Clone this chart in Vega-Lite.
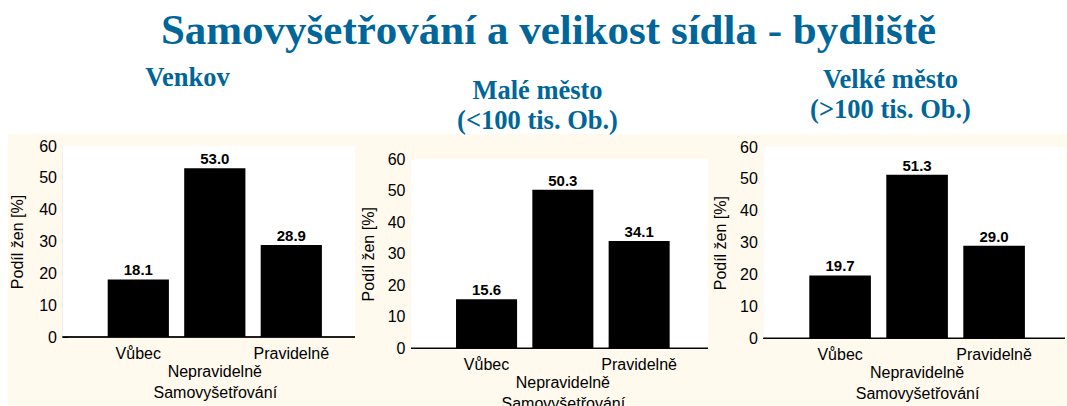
{
  "$schema": "https://vega.github.io/schema/vega-lite/v6.json",
  "background": "white",
  "padding": {"left": 8, "top": 9, "right": 0, "bottom": 0},
  "title": {"text": "Samovyšetřování a velikost sídla - bydliště", "fontSize": 43, "anchor": "middle", "baseline": "bottom", "offset": -30.9, "dx": 11},
  "data": {"values": [
    {"sidlo": "Venkov", "kategorie": "Vůbec", "podil": 18.1},
    {"sidlo": "Venkov", "kategorie": "Nepravidelně", "podil": 53.0},
    {"sidlo": "Venkov", "kategorie": "Pravidelně", "podil": 28.9},
    {"sidlo": "Malé město", "kategorie": "Vůbec", "podil": 15.6},
    {"sidlo": "Malé město", "kategorie": "Nepravidelně", "podil": 50.3},
    {"sidlo": "Malé město", "kategorie": "Pravidelně", "podil": 34.1},
    {"sidlo": "Velké město", "kategorie": "Vůbec", "podil": 19.7},
    {"sidlo": "Velké město", "kategorie": "Nepravidelně", "podil": 51.3},
    {"sidlo": "Velké město", "kategorie": "Pravidelně", "podil": 29.0}
  ]},
  "spacing": 0,
  "bounds": "flush",
  "hconcat": [
    {
      "width": 347, "height": 273,
      "title": {"text": "Venkov", "fontSize": 26.5, "anchor": "middle", "frame": "group", "baseline": "bottom", "offset": 15.9, "dx": 6},
      "transform": [{"filter": "datum.sidlo === 'Venkov'"}],
      "layer": [
        {"mark": {"type": "rect", "fill": "white"},
         "encoding": {
           "x": {"datum": 0, "type": "quantitative", "scale": {"domain": [0, 1], "range": [54.5, 347]}, "axis": null},
           "x2": {"datum": 1},
           "y": {"datum": 0, "type": "quantitative", "scale": {"domain": [0, 60], "range": [203, 12]}},
           "y2": {"datum": 60}}},
        {"mark": {"type": "rule", "color": "black", "strokeWidth": 1},
         "encoding": {
           "x": {"datum": 0, "type": "quantitative", "scale": {"domain": [0, 1], "range": [54.5, 347]}, "axis": null},
           "x2": {"datum": 1},
           "y": {"datum": 0, "type": "quantitative", "scale": {"domain": [0, 60], "range": [203, 12]}}}},
        {"encoding": {
           "x": {"field": "kategorie", "type": "nominal", "sort": null,
                 "scale": {"domain": ["Vůbec", "Nepravidelně", "Pravidelně"], "range": [92.05, 321.55], "paddingInner": 0.2, "paddingOuter": 0.1},
                 "axis": {"title": "Samovyšetřování", "offset": -70, "domain": false, "ticks": false, "labelAngle": 0, "labelPadding": 8, "labelLineHeight": 18, "titlePadding": 5,
                          "labelExpr": "datum.label == 'Nepravidelně' ? ['', datum.label] : datum.label"}},
           "y": {"field": "podil", "type": "quantitative",
                 "scale": {"domain": [0, 60], "range": [203, 12]},
                 "axis": {"title": "Podíl žen [%]", "values": [0, 10, 20, 30, 40, 50, 60], "offset": -54.5, "tickSize": -5, "labelPadding": 11, "titlePadding": 13}}},
         "layer": [
           {"mark": {"type": "bar", "color": "black"}},
           {"mark": {"type": "text", "baseline": "bottom", "dy": -1, "fontWeight": "bold", "fontSize": 15, "font": "Liberation Sans", "color": "black"},
            "encoding": {"text": {"field": "podil", "type": "quantitative", "format": ".1f"}}}
         ]}
      ],
      "resolve": {"scale": {"x": "independent"}, "axis": {"x": "independent"}}
    },
    {
      "width": 365, "height": 273,
      "title": {"text": ["Malé město", "(<100 tis. Ob.)"], "fontSize": 26.5, "lineHeight": 30, "anchor": "middle", "frame": "group", "baseline": "bottom", "offset": -27.1},
      "transform": [{"filter": "datum.sidlo === 'Malé město'"}],
      "layer": [
        {"mark": {"type": "rect", "fill": "white"},
         "encoding": {
           "x": {"datum": 0, "type": "quantitative", "scale": {"domain": [0, 1], "range": [56, 353]}, "axis": null},
           "x2": {"datum": 1},
           "y": {"datum": 0, "type": "quantitative", "scale": {"domain": [0, 60], "range": [214.3, 25.3]}},
           "y2": {"datum": 60}}},
        {"mark": {"type": "rule", "color": "black", "strokeWidth": 1},
         "encoding": {
           "x": {"datum": 0, "type": "quantitative", "scale": {"domain": [0, 1], "range": [56, 353]}, "axis": null},
           "x2": {"datum": 1},
           "y": {"datum": 0, "type": "quantitative", "scale": {"domain": [0, 60], "range": [214.3, 25.3]}}}},
        {"encoding": {
           "x": {"field": "kategorie", "type": "nominal", "sort": null,
                 "scale": {"domain": ["Vůbec", "Nepravidelně", "Pravidelně"], "range": [93.4, 322.3], "paddingInner": 0.2, "paddingOuter": 0.1},
                 "axis": {"title": "Samovyšetřování", "offset": -58.7, "domain": false, "ticks": false, "labelAngle": 0, "labelPadding": 8, "labelLineHeight": 18, "titlePadding": 5,
                          "labelExpr": "datum.label == 'Nepravidelně' ? ['', datum.label] : datum.label"}},
           "y": {"field": "podil", "type": "quantitative",
                 "scale": {"domain": [0, 60], "range": [214.3, 25.3]},
                 "axis": {"title": "Podíl žen [%]", "values": [0, 10, 20, 30, 40, 50, 60], "offset": -56, "tickSize": -5, "labelPadding": 11, "titlePadding": 11}}},
         "layer": [
           {"mark": {"type": "bar", "color": "black"}},
           {"mark": {"type": "text", "baseline": "bottom", "dy": -1, "fontWeight": "bold", "fontSize": 15, "font": "Liberation Sans", "color": "black"},
            "encoding": {"text": {"field": "podil", "type": "quantitative", "format": ".1f"}}}
         ]}
      ],
      "resolve": {"scale": {"x": "independent"}, "axis": {"x": "independent"}}
    },
    {
      "width": 347, "height": 273,
      "title": {"text": ["Velké město", "(>100 tis. Ob.)"], "fontSize": 26.5, "lineHeight": 30, "anchor": "middle", "frame": "group", "baseline": "bottom", "offset": -16.1, "dx": -3},
      "transform": [{"filter": "datum.sidlo === 'Velké město'"}],
      "layer": [
        {"mark": {"type": "rect", "fill": "white"},
         "encoding": {
           "x": {"datum": 0, "type": "quantitative", "scale": {"domain": [0, 1], "range": [43.3, 345]}, "axis": null},
           "x2": {"datum": 1},
           "y": {"datum": 0, "type": "quantitative", "scale": {"domain": [0, 60], "range": [204.3, 13]}},
           "y2": {"datum": 60}}},
        {"mark": {"type": "rule", "color": "black", "strokeWidth": 1},
         "encoding": {
           "x": {"datum": 0, "type": "quantitative", "scale": {"domain": [0, 1], "range": [43.3, 345]}, "axis": null},
           "x2": {"datum": 1},
           "y": {"datum": 0, "type": "quantitative", "scale": {"domain": [0, 60], "range": [204.3, 13]}}}},
        {"encoding": {
           "x": {"field": "kategorie", "type": "nominal", "sort": null,
                 "scale": {"domain": ["Vůbec", "Nepravidelně", "Pravidelně"], "range": [81.6, 312.6], "paddingInner": 0.2, "paddingOuter": 0.1},
                 "axis": {"title": "Samovyšetřování", "offset": -68.7, "domain": false, "ticks": false, "labelAngle": 0, "labelPadding": 8, "labelLineHeight": 18, "titlePadding": 5,
                          "labelExpr": "datum.label == 'Nepravidelně' ? ['', datum.label] : datum.label"}},
           "y": {"field": "podil", "type": "quantitative",
                 "scale": {"domain": [0, 60], "range": [204.3, 13]},
                 "axis": {"title": "Podíl žen [%]", "values": [0, 10, 20, 30, 40, 50, 60], "offset": -43.3, "tickSize": -5, "labelPadding": 11, "titlePadding": 11}}},
         "layer": [
           {"mark": {"type": "bar", "color": "black"}},
           {"mark": {"type": "text", "baseline": "bottom", "dy": -1, "fontWeight": "bold", "fontSize": 15, "font": "Liberation Sans", "color": "black"},
            "encoding": {"text": {"field": "podil", "type": "quantitative", "format": ".1f"}}}
         ]}
      ],
      "resolve": {"scale": {"x": "independent"}, "axis": {"x": "independent"}}
    }
  ],
  "config": {
    "view": {"stroke": null, "fill": "#FFF9EE"},
    "font": "Liberation Sans",
    "axis": {"labelFont": "Liberation Sans", "titleFont": "Liberation Sans", "labelColor": "black", "titleColor": "black", "labelFontSize": 16, "titleFontSize": 16, "titleFontWeight": "normal", "grid": false, "domainColor": "black", "tickColor": "black", "zindex": 1},
    "title": {"font": "Liberation Serif", "fontWeight": "bold", "color": "#006699"}
  }
}
